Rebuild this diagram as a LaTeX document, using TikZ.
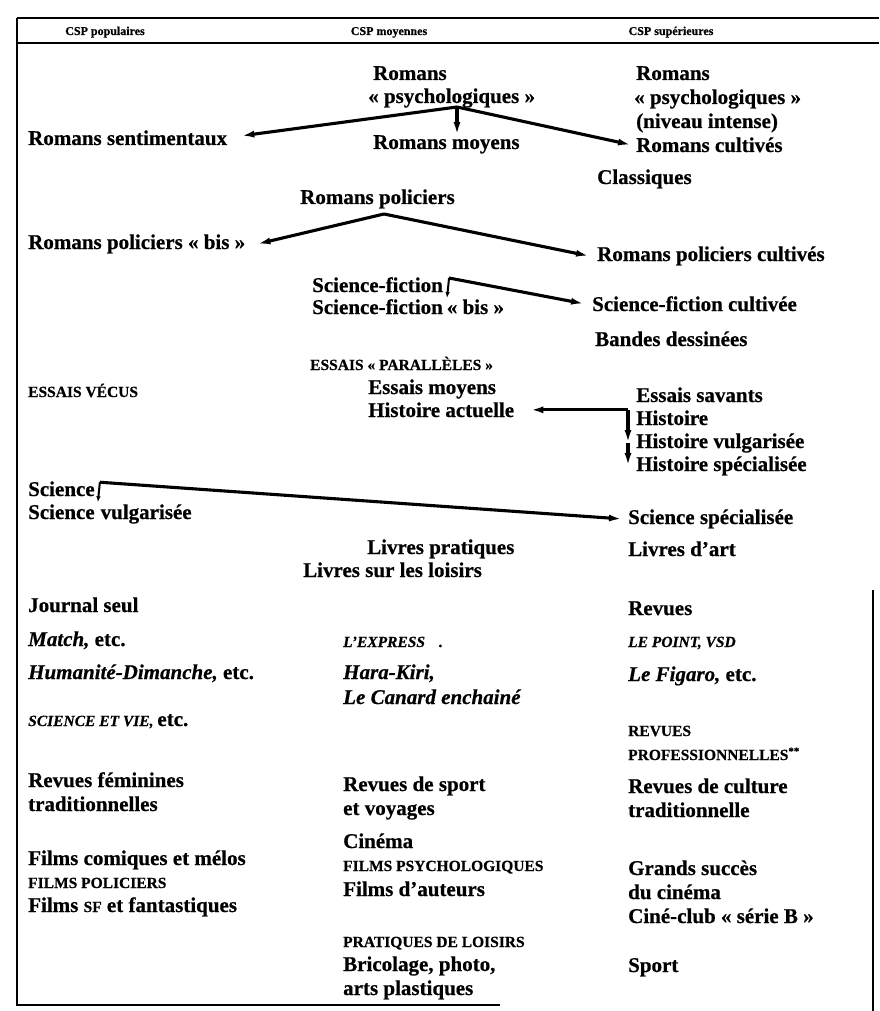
\documentclass[tikz,border=0pt]{standalone}
\usepackage{fontspec}
\setmainfont{Liberation Serif}[BoldFeatures={FakeBold=0.6},BoldItalicFeatures={FakeBold=0.6}]
\usetikzlibrary{arrows.meta}
\newcommand\smcaps[1]{{\fontsize{15.5}{18}\selectfont #1}}
\begin{document}
\begin{tikzpicture}[x=1pt,y=-1pt,
 txt/.style={anchor=base west,inner sep=0pt,font=\fontsize{21}{25}\selectfont\bfseries},
 caps/.style={txt,font=\fontsize{15.5}{18}\selectfont\bfseries},
 ital/.style={txt,font=\fontsize{21}{25}\selectfont\bfseries\itshape},
 itcaps/.style={txt,font=\fontsize{15.5}{18}\selectfont\bfseries\itshape},
 head/.style={anchor=base,inner sep=0pt,font=\fontsize{12}{14}\selectfont\bfseries\addfontfeature{FakeBold=2}},
 frame/.style={line width=2.6pt},
 arr/.style={line width=3.1pt,-{Latex[length=13pt,width=7pt]}},
 sarr/.style={line width=2pt,-{Latex[length=6pt,width=4.5pt]}}]
\useasboundingbox (0,0) rectangle (879,1011);
% frame
\draw[frame] (17,18) -- (879,18);
\draw[frame] (17,43) -- (879,43);
\draw[frame] (17,18) -- (17,1005) -- (500,1005);
\draw[frame] (873,590) -- (873,1011);
% headers
\node[head] (h1) at (105,35) {CSP populaires};
\node[head] (h2) at (389,35) {CSP moyennes};
\node[head] (h3) at (671,35) {CSP supérieures};
% romans
\node[txt] (rp1) at (373,80) {Romans};
\node[txt] (rp2) at (368,103) {«~psychologiques~»};
\node[txt] (r1) at (636,80) {Romans};
\node[txt] (r2) at (634,104) {«~psychologiques~»};
\node[txt] (r3) at (636,128) {(niveau intense)};
\node[txt] (rc) at (636,152) {Romans cultivés};
\node[txt] (sent) at (28,145) {Romans sentimentaux};
\node[txt] (moy) at (373,149) {Romans moyens};
\node[txt] (cla) at (597,184) {Classiques};
\coordinate (a1) at (457,107);
\draw[arr] (a1) -- ([xshift=14pt,yshift=2pt]sent.east);
\draw[arr] (a1) -- (a1 |- moy.north);
\draw[arr] (a1) -- ([xshift=-5pt]rc.west);
% policiers
\node[txt] (rpol) at (300,204) {Romans policiers};
\node[txt] (rpb) at (28,249) {Romans policiers «~bis~»};
\node[txt] (rpc) at (597,261) {Romans policiers cultivés};
\coordinate (a2) at (384,214);
\draw[arr] (a2) -- ([xshift=12pt]rpb.east);
\draw[arr] (a2) -- ([xshift=-8pt]rpc.west);
% science-fiction
\node[txt] (sf1) at (312,292) {Science-fiction};
\node[txt] (sf2) at (312,314) {Science-fiction\hspace{4pt}«~bis~»};
\node[txt] (sfc) at (592,311) {Science-fiction cultivée};
\coordinate (sfk) at ([xshift=6pt,yshift=-1pt]sf1.north east);
\coordinate (sfd) at ([xshift=4pt,yshift=-21pt]sf1.north east);
\draw[sarr] (sfk) -- (sfd);
\draw[arr] (sfk) -- ([xshift=-8pt]sfc.west);
\node[txt] (bd) at (595,346) {Bandes dessinées};
% essais
\node[caps] (essp) at (310,370) {ESSAIS «~PARALLÈLES~»};
\node[caps] (ev) at (28,397) {ESSAIS VÉCUS};
\node[txt] (em) at (368,394) {Essais moyens};
\node[txt] (ha) at (368,417) {Histoire actuelle};
\node[txt] (es) at (636,402) {Essais savants};
\node[txt] (hi) at (636,425) {Histoire};
\node[txt] (hv) at (636,448) {Histoire vulgarisée};
\node[txt] (hs) at (636,471) {Histoire spécialisée};
\coordinate (hk) at ([xshift=-8pt]hi.west |- ha.east);
\draw[arr] (hk) -- ([xshift=16pt]ha.east);
\draw[arr] (hk) -- ([xshift=-8pt]hv.west);
\draw[arr] ([xshift=-8pt]hv.west) -- ([xshift=-8pt]hs.west);
% science
\node[txt] (sci) at (28,496) {Science};
\node[txt] (scv) at (28,519) {Science\hspace{6pt}vulgarisée};
\node[txt] (scs) at (628,524) {Science spécialisée};
\coordinate (sck) at ([xshift=5pt,yshift=-1pt]sci.north east);
\coordinate (scd) at ([xshift=3pt,yshift=-21pt]sci.north east);
\draw[sarr] (sck) -- (scd);
\draw[arr] (sck) -- ([xshift=-6pt]scs.west);
% livres
\node[txt] (lp) at (367,554) {Livres pratiques};
\node[txt] (lsl) at (303,577) {Livres sur les loisirs};
\node[txt] (la) at (628,556) {Livres d'art};
% journaux
\node[txt] (js) at (28,612) {Journal seul};
\node[txt] (rev) at (628,615) {Revues};
\node[ital] (match) at (28,646) {Match, \upshape etc.};
\node[itcaps] (lexp) at (343,647) {L'EXPRESS\hspace{14pt}.};
\node[itcaps] (lpt) at (628,647) {LE POINT, VSD};
\node[ital] (hum) at (28,679) {Humanité-Dimanche, \upshape etc.};
\node[ital] (hk2) at (343,679) {Hara-Kiri,};
\node[ital] (can) at (343,704) {Le Canard enchainé};
\node[ital] (fig) at (628,681) {Le Figaro, \upshape etc.};
\node[itcaps] (sev) at (28,726) {SCIENCE ET VIE, {\fontsize{21}{25}\selectfont\upshape etc.}};
\node[caps] (rv) at (628,736) {REVUES};
\node[caps] (pro) at (628,760) {PROFESSIONNELLES\textsuperscript{**}};
% revues
\node[txt] (rf) at (28,787) {Revues féminines};
\node[txt] (trad) at (28,811) {traditionnelles};
\node[txt] (rs) at (343,791) {Revues de sport};
\node[txt] (ev2) at (343,815) {et voyages};
\node[txt] (rcu) at (628,793) {Revues de culture};
\node[txt] (trad2) at (628,817) {traditionnelle};
% cinema
\node[txt] (cin) at (343,848) {Cinéma};
\node[txt] (fcm) at (28,865) {Films comiques et mélos};
\node[caps] (fpol) at (28,888) {FILMS POLICIERS};
\node[txt] (fsf) at (28,912) {Films \smcaps{SF} et fantastiques};
\node[caps] (fpsy) at (343,871) {FILMS PSYCHOLOGIQUES};
\node[txt] (fda) at (343,896) {Films d'auteurs};
\node[txt] (gs) at (628,875) {Grands succès};
\node[txt] (dc) at (628,899) {du cinéma};
\node[txt] (cc) at (628,923) {Ciné-club «~série B~»};
% loisirs
\node[caps] (pdl) at (343,947) {PRATIQUES DE LOISIRS};
\node[txt] (bric) at (343,971) {Bricolage, photo,};
\node[txt] (arts) at (343,995) {arts plastiques};
\node[txt] (sport) at (628,972) {Sport};
\end{tikzpicture}
\end{document}
